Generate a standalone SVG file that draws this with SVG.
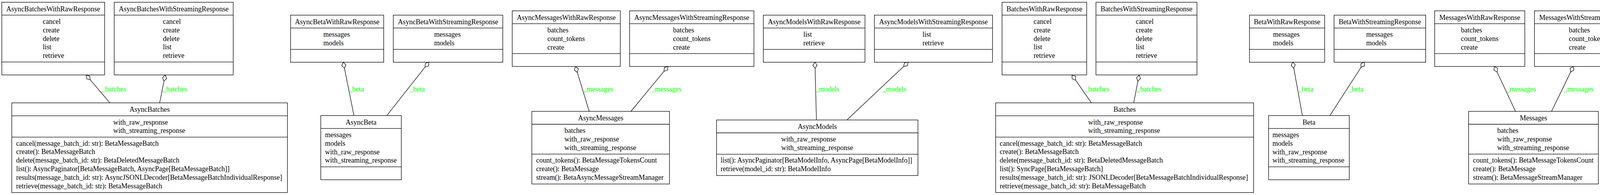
<svg xmlns="http://www.w3.org/2000/svg" width="4726" height="499" viewBox="0 0 4726 499">
<style>
.bg{fill:#fff}
.n{fill:#fff;stroke:#000;stroke-width:1.3}
.s{stroke:#000;stroke-width:1.3}
text{font-family:"Liberation Serif","Times New Roman",serif;font-size:18px;fill:#000}
.t{text-anchor:middle}
.lbl{fill:#00ff00}
.e{stroke:#000;stroke-width:1.3;fill:none}
.d{fill:#fff;stroke:#000;stroke-width:1.3;stroke-linejoin:miter}
</style>
<rect class="bg" x="0" y="0" width="4726" height="499"/>

<g id="AsyncBatchesWithRawResponse">
<rect class="n" x="4.6" y="5.7" width="263.3" height="186"/>
<line class="s" x1="4.6" y1="38.7" x2="267.9" y2="38.7"/>
<line class="s" x1="4.6" y1="158.7" x2="267.9" y2="158.7"/>
<text class="t" x="136.2" y="28.7">AsyncBatchesWithRawResponse</text>
<text x="109.4" y="61">cancel</text><text x="109.4" y="82.8">create</text><text x="109.4" y="104.6">delete</text><text x="109.4" y="126.4">list</text><text x="109.4" y="148.2">retrieve</text>
</g>
<g id="AsyncBatchesWithStreamingResponse">
<rect class="n" x="292.4" y="5.7" width="304.6" height="186"/>
<line class="s" x1="292.4" y1="38.7" x2="597" y2="38.7"/>
<line class="s" x1="292.4" y1="158.7" x2="597" y2="158.7"/>
<text class="t" x="444.7" y="28.7">AsyncBatchesWithStreamingResponse</text>
<text x="417.1" y="61">cancel</text><text x="417.1" y="82.8">create</text><text x="417.1" y="104.6">delete</text><text x="417.1" y="126.4">list</text><text x="417.1" y="148.2">retrieve</text>
</g>
<g id="AsyncBatches">
<rect class="n" x="30.2" y="263.3" width="705.6" height="229.4"/>
<line class="s" x1="30.2" y1="296.3" x2="735.8" y2="296.3"/>
<line class="s" x1="30.2" y1="350.9" x2="735.8" y2="350.9"/>
<text class="t" x="383" y="286.3">AsyncBatches</text>
<text x="290" y="318.6">with_raw_response</text><text x="290" y="340.4">with_streaming_response</text>
<text x="41.3" y="372.6">cancel(message_batch_id: str): BetaMessageBatch</text>
<text x="41.3" y="394.4">create(): BetaMessageBatch</text>
<text x="41.3" y="416.2">delete(message_batch_id: str): BetaDeletedMessageBatch</text>
<text x="41.3" y="438">list(): AsyncPaginator[BetaMessageBatch, AsyncPage[BetaMessageBatch]]</text>
<text x="41.3" y="459.8">results(message_batch_id: str): AsyncJSONLDecoder[BetaMessageBatchIndividualResponse]</text>
<text x="41.3" y="481.6">retrieve(message_batch_id: str): BetaMessageBatch</text>
</g>

<g id="AsyncBetaWithRawResponse">
<rect class="n" x="743.9" y="38.7" width="238.4" height="120.6"/>
<line class="s" x1="743.9" y1="71.7" x2="982.3" y2="71.7"/>
<line class="s" x1="743.9" y1="126.3" x2="982.3" y2="126.3"/>
<text class="t" x="863.1" y="61.7">AsyncBetaWithRawResponse</text>
<text x="827.7" y="94">messages</text><text x="827.7" y="115.8">models</text>
</g>
<g id="AsyncBetaWithStreamingResponse">
<rect class="n" x="1006.8" y="38.7" width="280.4" height="120.6"/>
<line class="s" x1="1006.8" y1="71.7" x2="1287.2" y2="71.7"/>
<line class="s" x1="1006.8" y1="126.3" x2="1287.2" y2="126.3"/>
<text class="t" x="1147" y="61.7">AsyncBetaWithStreamingResponse</text>
<text x="1111.6" y="94">messages</text><text x="1111.6" y="115.8">models</text>
</g>
<g id="AsyncBeta">
<rect class="n" x="821.2" y="295.7" width="206.2" height="164.2"/>
<line class="s" x1="821.2" y1="328.7" x2="1027.4" y2="328.7"/>
<line class="s" x1="821.2" y1="426.9" x2="1027.4" y2="426.9"/>
<text class="t" x="924.3" y="318.7">AsyncBeta</text>
<text x="831.9" y="351">messages</text><text x="831.9" y="372.8">models</text><text x="831.9" y="394.6">with_raw_response</text><text x="831.9" y="416.4">with_streaming_response</text>
</g>

<g id="AsyncMessagesWithRawResponse">
<rect class="n" x="1311.4" y="27.7" width="276.6" height="142.4"/>
<line class="s" x1="1311.4" y1="60.7" x2="1588" y2="60.7"/>
<line class="s" x1="1311.4" y1="137.1" x2="1588" y2="137.1"/>
<text class="t" x="1449.7" y="50.7">AsyncMessagesWithRawResponse</text>
<text x="1401.3" y="83">batches</text><text x="1401.3" y="104.8">count_tokens</text><text x="1401.3" y="126.6">create</text>
</g>
<g id="AsyncMessagesWithStreamingResponse">
<rect class="n" x="1611.7" y="27.7" width="318.4" height="142.4"/>
<line class="s" x1="1611.7" y1="60.7" x2="1930.1" y2="60.7"/>
<line class="s" x1="1611.7" y1="137.1" x2="1930.1" y2="137.1"/>
<text class="t" x="1770.9" y="50.7">AsyncMessagesWithStreamingResponse</text>
<text x="1723.1" y="83">batches</text><text x="1723.1" y="104.8">count_tokens</text><text x="1723.1" y="126.6">create</text>
</g>
<g id="AsyncMessages">
<rect class="n" x="1361.5" y="285" width="352.4" height="185.8"/>
<line class="s" x1="1361.5" y1="318" x2="1713.9" y2="318"/>
<line class="s" x1="1361.5" y1="394.4" x2="1713.9" y2="394.4"/>
<text class="t" x="1537.7" y="308">AsyncMessages</text>
<text x="1444.9" y="340.3">batches</text><text x="1444.9" y="362.1">with_raw_response</text><text x="1444.9" y="383.9">with_streaming_response</text>
<text x="1372.6" y="416.1">count_tokens(): BetaMessageTokensCount</text>
<text x="1372.6" y="437.9">create(): BetaMessage</text>
<text x="1372.6" y="459.7">stream(): BetaAsyncMessageStreamManager</text>
</g>

<g id="AsyncModelsWithRawResponse">
<rect class="n" x="1954.2" y="38.7" width="260.2" height="120.6"/>
<line class="s" x1="1954.2" y1="71.7" x2="2214.4" y2="71.7"/>
<line class="s" x1="1954.2" y1="126.3" x2="2214.4" y2="126.3"/>
<text class="t" x="2084.3" y="61.7">AsyncModelsWithRawResponse</text>
<text x="2056.4" y="94">list</text><text x="2056.4" y="115.8">retrieve</text>
</g>
<g id="AsyncModelsWithStreamingResponse">
<rect class="n" x="2238.5" y="38.7" width="302.3" height="120.6"/>
<line class="s" x1="2238.5" y1="71.7" x2="2540.8" y2="71.7"/>
<line class="s" x1="2238.5" y1="126.3" x2="2540.8" y2="126.3"/>
<text class="t" x="2389.6" y="61.7">AsyncModelsWithStreamingResponse</text>
<text x="2361.4" y="94">list</text><text x="2361.4" y="115.8">retrieve</text>
</g>
<g id="AsyncModels">
<rect class="n" x="1834.4" y="307" width="515.5" height="142.2"/>
<line class="s" x1="1834.4" y1="340" x2="2349.9" y2="340"/>
<line class="s" x1="1834.4" y1="394.6" x2="2349.9" y2="394.6"/>
<text class="t" x="2092.2" y="330">AsyncModels</text>
<text x="2000.1" y="362.3">with_raw_response</text><text x="2000.1" y="384.1">with_streaming_response</text>
<text x="1844.8" y="416.3">list(): AsyncPaginator[BetaModelInfo, AsyncPage[BetaModelInfo]]</text>
<text x="1844.8" y="438.1">retrieve(model_id: str): BetaModelInfo</text>
</g>

<g id="BatchesWithRawResponse">
<rect class="n" x="2565.3" y="5.7" width="216.6" height="186"/>
<line class="s" x1="2565.3" y1="38.7" x2="2781.9" y2="38.7"/>
<line class="s" x1="2565.3" y1="158.7" x2="2781.9" y2="158.7"/>
<text class="t" x="2673.6" y="28.7">BatchesWithRawResponse</text>
<text x="2646" y="61">cancel</text><text x="2646" y="82.8">create</text><text x="2646" y="104.6">delete</text><text x="2646" y="126.4">list</text><text x="2646" y="148.2">retrieve</text>
</g>
<g id="BatchesWithStreamingResponse">
<rect class="n" x="2805.6" y="5.7" width="258.7" height="186"/>
<line class="s" x1="2805.6" y1="38.7" x2="3064.3" y2="38.7"/>
<line class="s" x1="2805.6" y1="158.7" x2="3064.3" y2="158.7"/>
<text class="t" x="2935" y="28.7">BatchesWithStreamingResponse</text>
<text x="2907.4" y="61">cancel</text><text x="2907.4" y="82.8">create</text><text x="2907.4" y="104.6">delete</text><text x="2907.4" y="126.4">list</text><text x="2907.4" y="148.2">retrieve</text>
</g>
<g id="Batches">
<rect class="n" x="2548.9" y="263.3" width="660.4" height="229.4"/>
<line class="s" x1="2548.9" y1="296.3" x2="3209.3" y2="296.3"/>
<line class="s" x1="2548.9" y1="350.9" x2="3209.3" y2="350.9"/>
<text class="t" x="2879.1" y="286.3">Batches</text>
<text x="2785.7" y="318.6">with_raw_response</text><text x="2785.7" y="340.4">with_streaming_response</text>
<text x="2559.2" y="372.6">cancel(message_batch_id: str): BetaMessageBatch</text>
<text x="2559.2" y="394.4">create(): BetaMessageBatch</text>
<text x="2559.2" y="416.2">delete(message_batch_id: str): BetaDeletedMessageBatch</text>
<text x="2559.2" y="438">list(): SyncPage[BetaMessageBatch]</text>
<text x="2559.2" y="459.8">results(message_batch_id: str): JSONLDecoder[BetaMessageBatchIndividualResponse]</text>
<text x="2559.2" y="481.6">retrieve(message_batch_id: str): BetaMessageBatch</text>
</g>

<g id="BetaWithRawResponse">
<rect class="n" x="3198.6" y="38.7" width="192.5" height="120.6"/>
<line class="s" x1="3198.6" y1="71.7" x2="3391.1" y2="71.7"/>
<line class="s" x1="3198.6" y1="126.3" x2="3391.1" y2="126.3"/>
<text class="t" x="3294.8" y="61.7">BetaWithRawResponse</text>
<text x="3259.1" y="94">messages</text><text x="3259.1" y="115.8">models</text>
</g>
<g id="BetaWithStreamingResponse">
<rect class="n" x="3415.2" y="38.7" width="234.5" height="120.6"/>
<line class="s" x1="3415.2" y1="71.7" x2="3649.7" y2="71.7"/>
<line class="s" x1="3415.2" y1="126.3" x2="3649.7" y2="126.3"/>
<text class="t" x="3532.5" y="61.7">BetaWithStreamingResponse</text>
<text x="3497.5" y="94">messages</text><text x="3497.5" y="115.8">models</text>
</g>
<g id="Beta">
<rect class="n" x="3247.6" y="295.7" width="206.6" height="164.2"/>
<line class="s" x1="3247.6" y1="328.7" x2="3454.2" y2="328.7"/>
<line class="s" x1="3247.6" y1="426.9" x2="3454.2" y2="426.9"/>
<text class="t" x="3350.9" y="318.7">Beta</text>
<text x="3257.5" y="351">messages</text><text x="3257.5" y="372.8">models</text><text x="3257.5" y="394.6">with_raw_response</text><text x="3257.5" y="416.4">with_streaming_response</text>
</g>

<g id="MessagesWithRawResponse">
<rect class="n" x="3672.7" y="27.7" width="230.8" height="142.4"/>
<line class="s" x1="3672.7" y1="60.7" x2="3903.5" y2="60.7"/>
<line class="s" x1="3672.7" y1="137.1" x2="3903.5" y2="137.1"/>
<text class="t" x="3788.1" y="50.7">MessagesWithRawResponse</text>
<text x="3740.1" y="83">batches</text><text x="3740.1" y="104.8">count_tokens</text><text x="3740.1" y="126.6">create</text>
</g>
<g id="MessagesWithStreamingResponse">
<rect class="n" x="3928.3" y="27.7" width="272.2" height="142.4"/>
<line class="s" x1="3928.3" y1="60.7" x2="4200.5" y2="60.7"/>
<line class="s" x1="3928.3" y1="137.1" x2="4200.5" y2="137.1"/>
<text class="t" x="4064.4" y="50.7">MessagesWithStreamingResponse</text>
<text x="4016.3" y="83">batches</text><text x="4016.3" y="104.8">count_tokens</text><text x="4016.3" y="126.6">create</text>
</g>
<g id="Messages">
<rect class="n" x="3759.6" y="285" width="332.1" height="185.8"/>
<line class="s" x1="3759.6" y1="318" x2="4091.7" y2="318"/>
<line class="s" x1="3759.6" y1="394.4" x2="4091.7" y2="394.4"/>
<text class="t" x="3925.7" y="308">Messages</text>
<text x="3833" y="340.3">batches</text><text x="3833" y="362.1">with_raw_response</text><text x="3833" y="383.9">with_streaming_response</text>
<text x="3770.7" y="416.1">count_tokens(): BetaMessageTokensCount</text>
<text x="3770.7" y="437.9">create(): BetaMessage</text>
<text x="3770.7" y="459.7">stream(): BetaMessageStreamManager</text>
</g>

<g id="ModelsWithRawResponse">
<rect class="n" x="4225.2" y="38.7" width="214.3" height="120.6"/>
<line class="s" x1="4225.2" y1="71.7" x2="4439.5" y2="71.7"/>
<line class="s" x1="4225.2" y1="126.3" x2="4439.5" y2="126.3"/>
<text class="t" x="4332.4" y="61.7">ModelsWithRawResponse</text>
<text x="4304.7" y="94">list</text><text x="4304.7" y="115.8">retrieve</text>
</g>
<g id="ModelsWithStreamingResponse">
<rect class="n" x="4464.3" y="38.7" width="256.7" height="120.6"/>
<line class="s" x1="4464.3" y1="71.7" x2="4721" y2="71.7"/>
<line class="s" x1="4464.3" y1="126.3" x2="4721" y2="126.3"/>
<text class="t" x="4592.7" y="61.7">ModelsWithStreamingResponse</text>
<text x="4564.6" y="94">list</text><text x="4564.6" y="115.8">retrieve</text>
</g>
<g id="Models">
<rect class="n" x="4309.7" y="307" width="306.6" height="142.2"/>
<line class="s" x1="4309.7" y1="340" x2="4616.3" y2="340"/>
<line class="s" x1="4309.7" y1="394.6" x2="4616.3" y2="394.6"/>
<text class="t" x="4463" y="330">Models</text>
<text x="4370.4" y="362.3">with_raw_response</text><text x="4370.4" y="384.1">with_streaming_response</text>
<text x="4319.8" y="416.3">list(): SyncPage[BetaModelInfo]</text>
<text x="4319.8" y="438.1">retrieve(model_id: str): BetaModelInfo</text>
</g>

<g id="connectors">
<line class="e" x1="230.9" y1="204.2" x2="281.3" y2="263.3"/><polygon class="d" points="220.5,192 229.8,194.6 230.9,204.2 221.6,201.6"/><text class="lbl" x="260.2" y="234">_batches</text>
<line class="e" x1="419.8" y1="207.7" x2="408.7" y2="263.3"/><polygon class="d" points="422.9,192 426.5,200.9 419.8,207.7 416.1,198.8"/><text class="lbl" x="416.3" y="234">_batches</text>
<line class="e" x1="881.8" y1="174.7" x2="906.1" y2="295.7"/><polygon class="d" points="878.6,159 885.4,165.8 881.8,174.7 875.0,167.9"/><text class="lbl" x="892.7" y="234">_beta</text>
<line class="e" x1="1088.1" y1="171.6" x2="990.3" y2="295.7"/><polygon class="d" points="1098,159 1097.2,168.6 1088.1,171.6 1088.9,162.0"/><text class="lbl" x="1048.5" y="234">_beta</text>
<line class="e" x1="1477.9" y1="185.3" x2="1508.4" y2="285"/><polygon class="d" points="1473.2,170 1480.6,176.1 1477.9,185.3 1470.4,179.2"/><text class="lbl" x="1492.7" y="234">_messages</text>
<line class="e" x1="1699.8" y1="182.4" x2="1615.2" y2="285"/><polygon class="d" points="1710,170 1709.0,179.6 1699.8,182.4 1700.8,172.8"/><text class="lbl" x="1667.6" y="234">_messages</text>
<line class="e" x1="2086.6" y1="175" x2="2090.1" y2="307"/><polygon class="d" points="2086.2,159 2091.7,166.9 2086.6,175 2081.1,167.1"/><text class="lbl" x="2087.8" y="234">_models</text>
<line class="e" x1="2313.4" y1="170" x2="2168.1" y2="307"/><polygon class="d" points="2325,159 2322.9,168.4 2313.4,170 2315.5,160.6"/><text class="lbl" x="2259.2" y="234">_models</text>
<line class="e" x1="2753.6" y1="205.1" x2="2794.1" y2="263.3"/><polygon class="d" points="2744.4,192 2753.4,195.5 2753.6,205.1 2744.6,201.6"/><text class="lbl" x="2776.9" y="234">_batches</text>
<line class="e" x1="2913.1" y1="207.7" x2="2902.1" y2="263.3"/><polygon class="d" points="2916.2,192 2919.8,200.8 2913.1,207.7 2909.4,198.8"/><text class="lbl" x="2910.1" y="234">_batches</text>
<line class="e" x1="3312.1" y1="174.7" x2="3334.1" y2="295.7"/><polygon class="d" points="3309.2,159 3315.9,165.9 3312.1,174.7 3305.4,167.8"/><text class="lbl" x="3323.3" y="234">_beta</text>
<line class="e" x1="3484.2" y1="172.4" x2="3404.5" y2="295.7"/><polygon class="d" points="3492.9,159 3493.1,168.6 3484.2,172.4 3484.1,162.8"/><text class="lbl" x="3451.5" y="234">_beta</text>
<line class="e" x1="3832.6" y1="184.5" x2="3879.7" y2="285"/><polygon class="d" points="3825.8,170 3834.0,175.0 3832.6,184.5 3824.4,179.5"/><text class="lbl" x="3855.6" y="234">_messages</text>
<line class="e" x1="4020.8" y1="184.4" x2="3971.9" y2="285"/><polygon class="d" points="4027.8,170 4029.1,179.5 4020.8,184.4 4019.5,174.9"/><text class="lbl" x="4002.9" y="234">_messages</text>
<line class="e" x1="4368.4" y1="173.5" x2="4430.1" y2="307"/><polygon class="d" points="4361.7,159 4369.9,164.0 4368.4,173.5 4360.2,168.5"/><text class="lbl" x="4396.2" y="234">_models</text>
<line class="e" x1="4557.3" y1="173.5" x2="4495.2" y2="307"/><polygon class="d" points="4564,159 4565.4,168.5 4557.3,173.5 4555.8,164.0"/><text class="lbl" x="4535.5" y="234">_models</text>
</g>
</svg>
